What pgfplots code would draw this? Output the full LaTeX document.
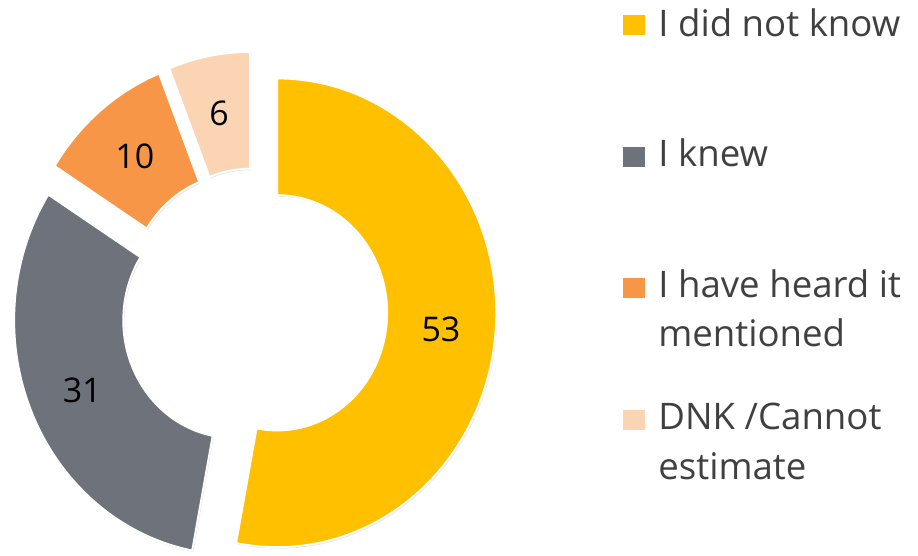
\documentclass[border=0pt]{standalone}
\usepackage{pgfplots}
\pgfplotsset{compat=1.18}
\usepackage{pgfplotstable}
\usepackage{fontspec}
\setmainfont{Open Sans}
\usetikzlibrary{shadows}
\definecolor{slice0}{HTML}{FFC000}
\definecolor{slice1}{HTML}{6E727A}
\definecolor{slice2}{HTML}{F79646}
\definecolor{slice3}{HTML}{FBD4B4}
\definecolor{txt}{HTML}{404040}

% values of the donut (percent), in drawing order (clockwise from 12 o'clock)
\pgfplotstableread[col sep=comma]{
id,value
0,53
1,31
2,10
3,6
}\donutdata

% geometry (pixel units of the 918x556 frame, y up)
\def\cx{254.3}\def\cy{245.5}% donut centre
\def\R{219}\def\r{110}% outer / inner radius (x)
\def\k{1.07}% vertical stretch
\def\d{23}% explode distance
\pgfmathsetmacro{\Rm}{(\R+\r)/2}

\pgfplotstablegetrowsof{\donutdata}
\pgfmathtruncatemacro{\N}{\pgfplotsretval-1}
\def\cum{0}
\pgfplotsforeachungrouped \i in {0,...,\N}{%
  \pgfplotstablegetelem{\i}{value}\of\donutdata
  \let\val\pgfplotsretval
  \pgfmathsetmacro{\ts}{\cum*3.6}%
  \pgfmathsetmacro{\te}{(\cum+\val)*3.6}%
  \pgfmathsetmacro{\pS}{90-\ts}%
  \pgfmathsetmacro{\pE}{90-\te}%
  \pgfmathsetmacro{\pM}{90-(\ts+\te)/2}%
  \pgfmathsetmacro{\sx}{\cx+\d*cos(\pM)}%
  \pgfmathsetmacro{\sy}{\cy+\d*\k*sin(\pM)}%
  \pgfmathsetmacro{\ox}{\sx+\R*cos(\pS)}%
  \pgfmathsetmacro{\oy}{\sy+\R*\k*sin(\pS)}%
  \pgfmathsetmacro{\ix}{\sx+\r*cos(\pE)}%
  \pgfmathsetmacro{\iy}{\sy+\r*\k*sin(\pE)}%
  \pgfmathsetmacro{\lx}{\sx+\Rm*cos(\pM)}%
  \pgfmathsetmacro{\ly}{\sy+\Rm*\k*sin(\pM)}%
  \pgfmathtruncatemacro{\vv}{\val}%
  \expandafter\xdef\csname pS\i\endcsname{\pS}%
  \expandafter\xdef\csname pE\i\endcsname{\pE}%
  \expandafter\xdef\csname ox\i\endcsname{\ox}%
  \expandafter\xdef\csname oy\i\endcsname{\oy}%
  \expandafter\xdef\csname ix\i\endcsname{\ix}%
  \expandafter\xdef\csname iy\i\endcsname{\iy}%
  \expandafter\xdef\csname lx\i\endcsname{\lx}%
  \expandafter\xdef\csname ly\i\endcsname{\ly}%
  \expandafter\xdef\csname vv\i\endcsname{\vv}%
  \pgfmathsetmacro{\cum}{\cum+\val}%
}
\pgfmathsetmacro{\Rx}{\R*0.5}\pgfmathsetmacro{\Ry}{\R*\k*0.5}
\pgfmathsetmacro{\rx}{\r*0.5}\pgfmathsetmacro{\ry}{\r*\k*0.5}

\begin{document}
\begin{tikzpicture}
\begin{axis}[
  scale only axis, width=459pt, height=278pt,
  xmin=0, xmax=918, ymin=0, ymax=556,
  hide axis, clip=false,
]
\pgfplotsinvokeforeach{0,...,3}{%
  \fill[fill=slice#1, draw=white, line width=0.9pt,
        drop shadow={shadow xshift=0.6pt, shadow yshift=-0.8pt, opacity=0.18}]
    (axis cs:\csname ox#1\endcsname,\csname oy#1\endcsname)
    arc[start angle=\csname pS#1\endcsname, end angle=\csname pE#1\endcsname, x radius=\Rx pt, y radius=\Ry pt]
    -- (axis cs:\csname ix#1\endcsname,\csname iy#1\endcsname)
    arc[start angle=\csname pE#1\endcsname, end angle=\csname pS#1\endcsname, x radius=\rx pt, y radius=\ry pt]
    -- cycle;
  \node[font=\fontsize{17}{20}\selectfont, text=black, inner sep=0pt]
    at (axis cs:\csname lx#1\endcsname,\csname ly#1\endcsname) {\csname vv#1\endcsname};
}
% legend
\begin{scope}[every node/.style={font=\fontsize{18.3}{22}\selectfont, text=txt, inner sep=0pt, anchor=base west}]
\fill[slice0] (axis cs:623,541) rectangle (axis cs:645,521);
\node at (axis cs:658,519) {I did not know};
\fill[slice1] (axis cs:623,409) rectangle (axis cs:645,389);
\node at (axis cs:658,389) {I knew};
\fill[slice2] (axis cs:623,278) rectangle (axis cs:645,258);
\node at (axis cs:658,258) {I have heard it};
\node at (axis cs:658,209) {mentioned};
\fill[slice3] (axis cs:623,146) rectangle (axis cs:645,126);
\node at (axis cs:658,126) {DNK /Cannot};
\node at (axis cs:658,76) {estimate};
\end{scope}
\end{axis}
\pgfresetboundingbox
\path (current axis.south west) rectangle (current axis.north east);
\end{tikzpicture}
\end{document}
